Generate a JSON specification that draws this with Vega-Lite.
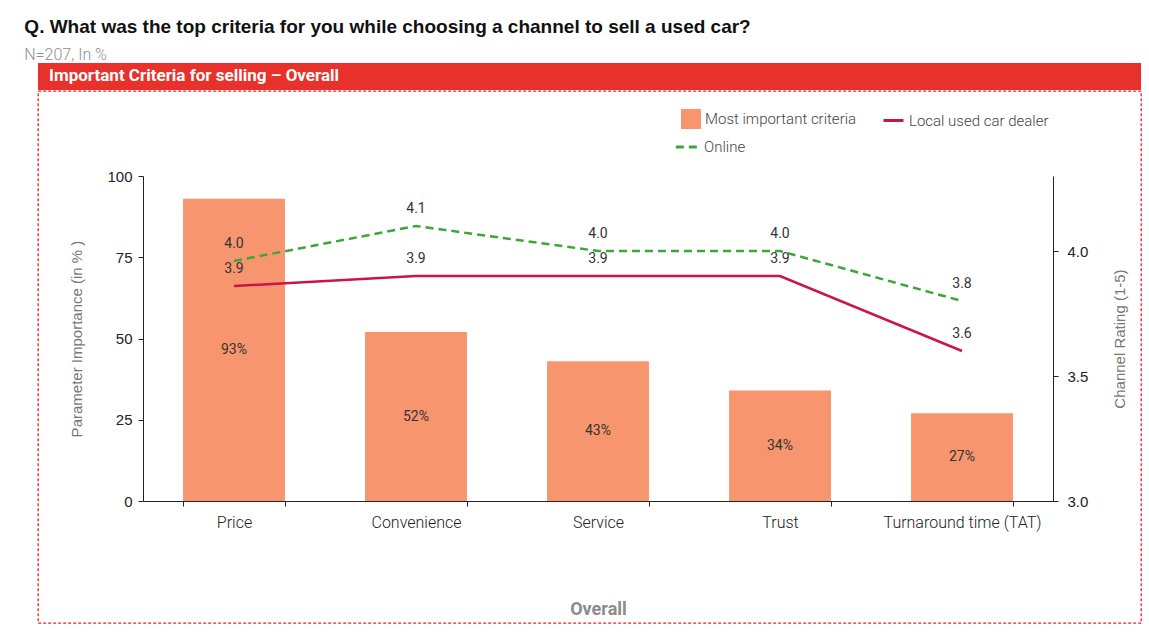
{
  "$schema": "https://vega.github.io/schema/vega-lite/v6.json",
  "background": "white",
  "padding": {"left": 24, "right": 9, "top": 18, "bottom": 7},
  "config": {"font": "Roboto", "view": {"stroke": null}},
  "title": {
    "text": "Q. What was the top criteria for you while choosing a channel to sell a used car?",
    "subtitle": "N=207, In %",
    "anchor": "start",
    "dx": -13,
    "font": "Liberation Sans",
    "fontSize": 19,
    "fontWeight": "bold",
    "color": "#111111",
    "subtitleFont": "Roboto",
    "subtitleFontSize": 16,
    "subtitleFontWeight": 300,
    "subtitleColor": "#8f8f8f",
    "subtitlePadding": 10,
    "offset": 0
  },
  "spacing": 0,
  "vconcat": [
    {
      "width": 1103,
      "height": 27,
      "view": {"fill": "#E8312A", "stroke": null},
      "data": {"values": [{}]},
      "mark": {"type": "text", "text": ""},
      "encoding": {},
      "title": {
        "text": "Important Criteria for selling – Overall",
        "anchor": "start",
        "orient": "top",
        "offset": -30,
        "baseline": "middle",
        "dx": 11,
        "color": "white",
        "fontSize": 17,
        "fontWeight": "bold",
        "font": "Roboto"
      }
    },
    {
      "width": 1103,
      "height": 532,
      "view": {"stroke": "#E0262A", "strokeDash": [3, 2], "strokeWidth": 1.3},
      "data": {
        "values": [
          {"criteria": "Price", "pct": 0.93, "local": 3.86, "online": 3.96},
          {"criteria": "Convenience", "pct": 0.52, "local": 3.9, "online": 4.1},
          {"criteria": "Service", "pct": 0.43, "local": 3.9, "online": 4.0},
          {"criteria": "Trust", "pct": 0.34, "local": 3.9, "online": 4.0},
          {"criteria": "Turnaround time (TAT)", "pct": 0.27, "local": 3.6, "online": 3.8}
        ]
      },
      "encoding": {
        "x": {
          "field": "criteria",
          "type": "nominal",
          "sort": null,
          "scale": {"range": [105, 1015], "paddingInner": 0.44, "paddingOuter": 0.22},
          "axis": {
            "orient": "bottom",
            "offset": -122,
            "tickBand": "extent",
            "domainColor": "#222222",
            "tickColor": "#222222",
            "tickSize": 5,
            "labelFont": "Roboto",
            "labelFontSize": 16,
            "labelFontWeight": 300,
            "labelColor": "#222222",
            "labelPadding": 8,
            "labelAngle": 0,
            "title": "Overall",
            "titleFont": "Roboto",
            "titleFontSize": 18,
            "titleFontWeight": "bold",
            "titleColor": "#8c8c8c",
            "titlePadding": 70,
            "grid": false
          }
        }
      },
      "layer": [
        {
          "mark": {"type": "bar", "color": "#F7956F"},
          "encoding": {
            "y": {
              "field": "pct",
              "type": "quantitative",
              "scale": {"domain": [0, 1], "range": [410, 85], "nice": false},
              "axis": {
                "orient": "left",
                "offset": -105,
                "values": [0, 0.25, 0.5, 0.75, 1],
                "labelExpr": "format(datum.value * 100, 'd')",
                "title": "Parameter Importance  (in % )",
                "titleFont": "Liberation Sans",
                "titleFontSize": 15,
                "titleFontWeight": "normal",
                "titleColor": "#777777",
                "titlePadding": 22,
                "labelFont": "Liberation Sans",
                "labelFontSize": 15,
                "labelColor": "#222222",
                "labelPadding": 6,
                "domainColor": "#222222",
                "tickColor": "#222222",
                "tickSize": 5,
                "grid": false
              }
            },
            "fill": {
              "datum": "Most important criteria",
              "type": "nominal",
              "scale": {"range": ["#F7956F"]},
              "legend": {
                "orient": "none",
                "legendX": 643,
                "legendY": 46,
                "title": null,
                "symbolType": "square",
                "symbolSize": 400,
                "symbolStrokeWidth": 0,
                "labelFont": "Roboto",
                "labelFontWeight": 300,
                "labelFontSize": 15,
                "labelColor": "#444444"
              }
            }
          }
        },
        {
          "mark": {"type": "text", "fontSize": 14, "color": "#333333"},
          "encoding": {
            "y": {
              "field": "pct",
              "type": "quantitative",
              "scale": {"domain": [0, 2], "range": [410, 85], "nice": false},
              "axis": null
            },
            "text": {"field": "pct", "format": ".0%"}
          }
        },
        {
          "layer": [
            {
              "mark": {"type": "line", "strokeWidth": 2.5},
              "encoding": {
                "y": {
                  "field": "local",
                  "type": "quantitative",
                  "title": "Channel Rating (1-5)",
                  "scale": {"domain": [3, 4.3], "range": [410, 85], "nice": false, "zero": false},
                  "axis": {
                    "orient": "right",
                    "offset": -88,
                    "values": [3, 3.5, 4],
                    "format": ".1f",
                    "titleAngle": 270,
                    "titleFont": "Liberation Sans",
                    "titleFontSize": 15,
                    "titleFontWeight": "normal",
                    "titleColor": "#777777",
                    "titlePadding": 40,
                    "labelFont": "Liberation Sans",
                    "labelFontSize": 15,
                    "labelColor": "#222222",
                    "labelPadding": 9,
                    "domainColor": "#222222",
                    "tickColor": "#222222",
                    "tickSize": 5,
                    "grid": false
                  }
                },
                "stroke": {
                  "datum": "Local used car dealer",
                  "type": "nominal",
                  "scale": {"range": ["#C9154A"]},
                  "legend": {
                    "orient": "none",
                    "legendX": 844,
                    "legendY": 46,
                    "title": null,
                    "symbolType": "stroke",
                    "symbolSize": 400,
                    "symbolStrokeWidth": 3,
                    "labelFont": "Roboto",
                    "labelFontWeight": 300,
                    "labelFontSize": 15,
                    "labelColor": "#444444"
                  }
                }
              }
            },
            {
              "mark": {"type": "line", "strokeWidth": 2.5, "color": "#3DA63A"},
              "encoding": {
                "y": {"field": "online", "type": "quantitative", "title": "Channel Rating (1-5)"},
                "strokeDash": {
                  "datum": "Online",
                  "type": "nominal",
                  "scale": {"range": [[8, 5]]},
                  "legend": {
                    "orient": "none",
                    "legendX": 636,
                    "legendY": 71,
                    "title": null,
                    "symbolType": "stroke",
                    "symbolSize": 500,
                    "symbolStrokeWidth": 3,
                    "symbolStrokeColor": "#3DA63A",
                    "labelFont": "Roboto",
                    "labelFontWeight": 300,
                    "labelFontSize": 15,
                    "labelColor": "#444444"
                  }
                }
              }
            },
            {
              "mark": {"type": "text", "fontSize": 14, "color": "#333333", "dy": -17},
              "encoding": {
                "y": {"field": "local", "type": "quantitative", "title": "Channel Rating (1-5)"},
                "text": {"field": "local", "format": ".1f"}
              }
            },
            {
              "mark": {"type": "text", "fontSize": 14, "color": "#333333", "dy": -17},
              "encoding": {
                "y": {"field": "online", "type": "quantitative", "title": "Channel Rating (1-5)"},
                "text": {"field": "online", "format": ".1f"}
              }
            }
          ]
        }
      ],
      "resolve": {"scale": {"y": "independent"}}
    }
  ]
}
